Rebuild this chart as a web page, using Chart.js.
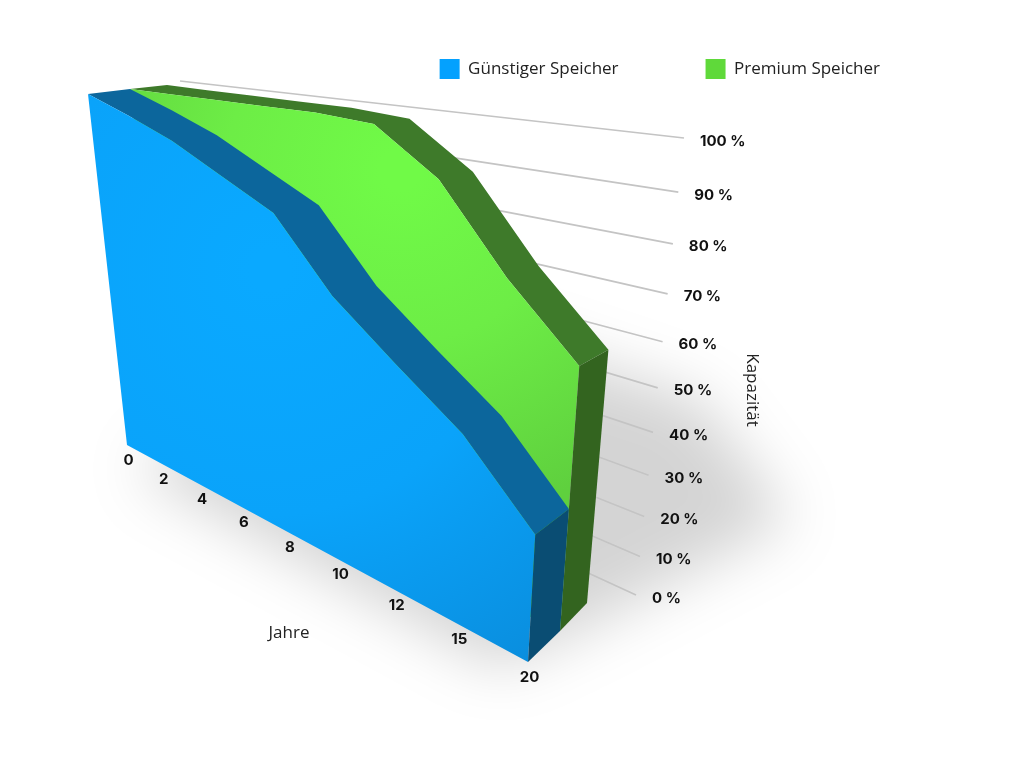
<!DOCTYPE html>
<html>
<head>
<meta charset="utf-8">
<title>Kapazität</title>
<script src="https://cdn.jsdelivr.net/npm/chart.js@4"></script>
<style>
  html, body { margin: 0; padding: 0; background: #fff; }
  canvas { display: block; }
</style>
</head>
<body>
<canvas id="chart" width="1024" height="768"></canvas>
<script>
// Data.
const YEARS = ["0", "2", "4", "6", "8", "10", "12", "15", "20"];
const GUENSTIG = [100, 96, 91.5, 85.5, 79.5, 64.5, 54, 44, 29];
const PREMIUM = [100, 99.7, 99.5, 99.2, 99, 98, 89, 72.5, 59];

// Camera: where the corners of each depth plane land on screen, as
// [x0 y0, x1 y0, x0 y100, x1 y100]. The wall carries the grid lines.
const PLANE_FRONT = [[127, 445], [528, 662], [88, 94], [557, 152]];
const PLANE_MID = [[170, 445], [560, 631], [130, 89], [596, 136]];
const PLANE_BACK = [[204, 430], [587, 603], [167, 85], [627, 130]];
const PLANE_WALL = [[206, 397], [636, 595], [180, 81], [684, 138]];

// Unit square -> quad homography.
function homography(q) {
  const [p00, p10, p01, p11] = q;
  const dx1 = p10[0] - p11[0], dy1 = p10[1] - p11[1];
  const dx2 = p01[0] - p11[0], dy2 = p01[1] - p11[1];
  const sx = p00[0] - p10[0] + p11[0] - p01[0];
  const sy = p00[1] - p10[1] + p11[1] - p01[1];
  const det = dx1 * dy2 - dx2 * dy1;
  const g = (sx * dy2 - dx2 * sy) / det;
  const h = (dx1 * sy - sx * dy1) / det;
  return function (u, v) {
    const w = g * u + h * v + 1;
    return [
      ((p10[0] - p00[0] + g * p10[0]) * u + (p01[0] - p00[0] + h * p01[0]) * v + p00[0]) / w,
      ((p10[1] - p00[1] + g * p10[1]) * u + (p01[1] - p00[1] + h * p01[1]) * v + p00[1]) / w,
    ];
  };
}

const front = homography(PLANE_FRONT);
const mid = homography(PLANE_MID);
const back = homography(PLANE_BACK);
const wall = homography(PLANE_WALL);

function poly(ctx, pts, fill) {
  ctx.beginPath();
  pts.forEach((p, i) => (i ? ctx.lineTo(p[0], p[1]) : ctx.moveTo(p[0], p[1])));
  ctx.closePath();
  ctx.fillStyle = fill;
  ctx.fill();
}

// Normalised position of a data point on the chart's own scales.
function normal(chart, el) {
  const a = chart.chartArea;
  return [(el.x - a.left) / (a.right - a.left), (a.bottom - el.y) / (a.bottom - a.top)];
}

// One extruded area: ribbon over the top, flat face in front, end cap at the right.
function drawLayer(chart, index, near, far, faceFill, ribbon, cap) {
  const ctx = chart.ctx;
  const pts = chart.getDatasetMeta(index).data.map((el) => normal(chart, el));
  const nearTop = pts.map((p) => near(p[0], p[1]));
  const farTop = pts.map((p) => far(p[0], p[1]));
  poly(ctx, nearTop.concat(farTop.slice().reverse()), ribbon);
  poly(ctx, [near(0, 0)].concat(nearTop, [near(1, 0)]), faceFill);
  poly(ctx, [near(1, 0), nearTop[nearTop.length - 1], farTop[farTop.length - 1], far(1, 0)], cap);
}

const scene3d = {
  id: "scene3d",
  beforeDatasetsDraw(chart) {
    const ctx = chart.ctx;
    const x = chart.scales.x;
    const y = chart.scales.y;
    const a = chart.chartArea;

    // soft shadow on the floor
    ctx.save();
    ctx.filter = "blur(30px)";
    poly(ctx, [[135, 470], [500, 668], [590, 625], [790, 520], [700, 400], [400, 300]], "rgba(0,0,0,0.17)");
    ctx.restore();

    // grid lines on the back wall
    ctx.save();
    ctx.strokeStyle = "#c4c4c4";
    ctx.lineWidth = 1.7;
    y.ticks.forEach((t) => {
      const v = (a.bottom - y.getPixelForValue(t.value)) / (a.bottom - a.top);
      const p0 = wall(0, v);
      const p1 = wall(1, v);
      ctx.beginPath();
      ctx.moveTo(p0[0], p0[1]);
      ctx.lineTo(p1[0], p1[1]);
      ctx.stroke();
    });
    ctx.restore();

    const greenFace = ctx.createRadialGradient(400, 170, 20, 400, 170, 360);
    greenFace.addColorStop(0, "#70fa47");
    greenFace.addColorStop(0.45, "#6ded46");
    greenFace.addColorStop(1, "#5fd03e");
    const blueFace = ctx.createRadialGradient(270, 270, 20, 270, 270, 470);
    blueFace.addColorStop(0, "#0aa9ff");
    blueFace.addColorStop(0.5, "#0aa3fa");
    blueFace.addColorStop(1, "#0a8ede");

    drawLayer(chart, 1, mid, back, greenFace, "#3e7a2a", "#33641f");
    drawLayer(chart, 0, front, mid, blueFace, "#0c669c", "#0a4d73");

    // tick labels
    ctx.save();
    ctx.fillStyle = "#111";
    ctx.font = "700 15px Inter";
    ctx.textBaseline = "middle";
    ctx.textAlign = "left";
    y.ticks.forEach((t) => {
      const v = (a.bottom - y.getPixelForValue(t.value)) / (a.bottom - a.top);
      const p = wall(1, v);
      ctx.fillText(t.label, p[0] + 16, p[1] + 3);
    });
    ctx.textAlign = "center";
    x.ticks.forEach((t, i) => {
      const u = (x.getPixelForTick(i) - a.left) / (a.right - a.left);
      const p = front(u, 0);
      ctx.fillText(t.label, p[0] + 1.5, p[1] + 15);
    });

    // axis titles
    ctx.fillStyle = "#222";
    ctx.font = "17px 'Open Sans'";
    ctx.fillText(x.options.title.text, 289, 633);
    ctx.translate(752, 390);
    ctx.rotate(Math.PI / 2);
    ctx.fillText(y.options.title.text, 0, 0);
    ctx.restore();
  },
};

new Chart(document.getElementById("chart"), {
  type: "line",
  data: {
    labels: YEARS,
    datasets: [
      { label: "Günstiger Speicher", data: GUENSTIG, backgroundColor: "#04a1fe", borderColor: "#04a1fe", borderWidth: 0, pointRadius: 0, showLine: false },
      { label: "Premium Speicher", data: PREMIUM, backgroundColor: "#5fd93a", borderColor: "#5fd93a", borderWidth: 0, pointRadius: 0, showLine: false },
    ],
  },
  options: {
    responsive: false,
    animation: false,
    devicePixelRatio: 1,
    layout: { padding: { top: -28, right: 57, left: 0, bottom: 0 } },
    plugins: {
      tooltip: { enabled: false },
      legend: {
        position: "top",
        align: "end",
        labels: { boxWidth: 20, boxHeight: 20, padding: 87, color: "#222", font: { family: "'Open Sans'", size: 17 } },
      },
    },
    scales: {
      x: { display: false, title: { text: "Jahre" }, ticks: { autoSkip: false } },
      y: {
        display: false,
        min: 0,
        max: 100,
        title: { text: "Kapazität" },
        ticks: { stepSize: 10, callback: (v) => v + " %" },
      },
    },
  },
  plugins: [scene3d],
});
</script>
</body>
</html>
